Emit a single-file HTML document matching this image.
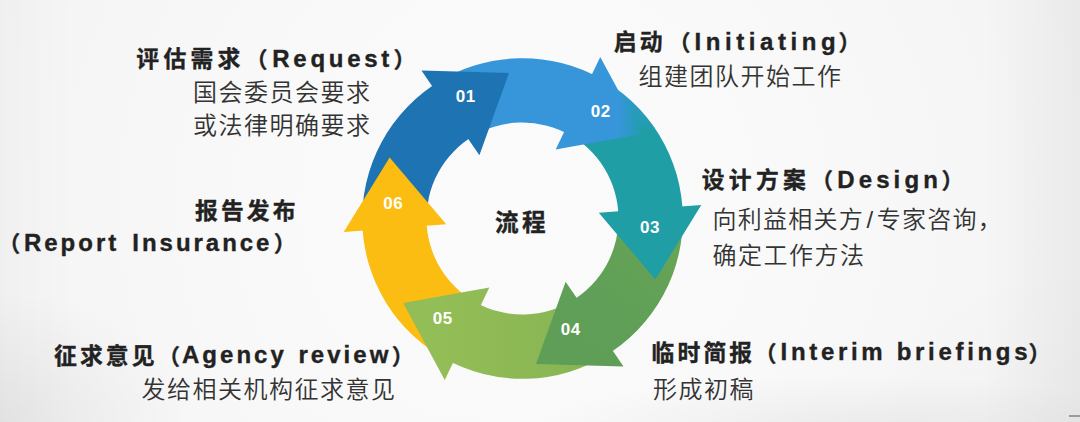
<!DOCTYPE html>
<html lang="zh-CN">
<head>
<meta charset="utf-8">
<title>流程</title>
<style>
html,body{margin:0;padding:0;}
body{width:1080px;height:422px;overflow:hidden;position:relative;
 font-family:"Liberation Sans","Noto Sans CJK SC",sans-serif;
 background:#f4f4f4;}
.bg{position:absolute;left:0;top:0;width:1080px;height:422px;
 background:
  radial-gradient(ellipse 190px 130px at 0px 422px, rgba(0,0,0,0.06), rgba(0,0,0,0) 100%),
  radial-gradient(ellipse 240px 170px at 1080px 422px, rgba(0,0,20,0.012), rgba(0,0,0,0) 100%),
  radial-gradient(ellipse 330px 55px at 860px 430px, rgba(0,0,20,0.05), rgba(0,0,0,0) 100%),
  linear-gradient(to right, rgba(0,0,0,0) 91%, rgba(0,0,0,0.045) 100%),
  linear-gradient(to left, rgba(0,0,0,0) 93%, rgba(0,0,0,0.02) 100%),
  radial-gradient(ellipse 640px 640px at 530px 205px, #fbfbfb 0%, #f9f9f9 40%, #f3f3f3 100%);}
.ring{position:absolute;left:0;top:0;}
.num{font-family:"Liberation Sans",sans-serif;font-weight:700;font-size:17px;letter-spacing:0.6px;fill:#fff;}
.h,.s{position:absolute;white-space:nowrap;line-height:34px;height:34px;}
.h{font-weight:700;font-size:22.8px;letter-spacing:3.1px;color:#222;-webkit-text-stroke:0.35px #222;}
.h span{position:absolute;top:0;}
.po,.pc{letter-spacing:0;font-size:22px;top:1.0px !important;}
.h .en{font-size:24px;top:-0.4px;}
.sl{padding:0 2.4px 0 2.4px;}
.s{font-weight:350;font-size:24px;letter-spacing:1.5px;color:#333;}
.dash{position:absolute;left:1069px;top:415px;width:11px;height:2px;background:#9a9a9a;}
</style>
</head>
<body>
<div class="bg"></div>
<svg class="ring" width="1080" height="422" viewBox="0 0 1080 422">
<defs>
<linearGradient id="g3" gradientUnits="userSpaceOnUse" x1="0" y1="86" x2="0" y2="132"><stop offset="0" stop-color="#3696d9"/><stop offset="1" stop-color="#1f9ea6"/></linearGradient>
<linearGradient id="h2" gradientUnits="userSpaceOnUse" x1="620" y1="0" x2="645" y2="0"><stop offset="0" stop-color="#3696d9"/><stop offset="1" stop-color="#1f9ea6"/></linearGradient>
<linearGradient id="g4" gradientUnits="userSpaceOnUse" x1="690" y1="225" x2="600" y2="350"><stop offset="0" stop-color="#6aa754"/><stop offset="0.6" stop-color="#60a057"/><stop offset="1" stop-color="#5f9e57"/></linearGradient>
<linearGradient id="g5" gradientUnits="userSpaceOnUse" x1="590" y1="330" x2="440" y2="330"><stop offset="0" stop-color="#87b453"/><stop offset="1" stop-color="#93bd56"/></linearGradient>
</defs>
<path d="M362.39 226.33 A160.30 160.30 0 0 1 441.62 80.10 L474.07 135.61 A96.00 96.00 0 0 0 426.61 223.19 Z" fill="#1e73b2"/>
<path d="M435.66 83.76 A160.30 160.30 0 0 1 601.92 79.26 L570.06 135.11 A96.00 96.00 0 0 0 470.50 137.81 Z" fill="#3696d9"/>
<path d="M595.77 75.93 A160.30 160.30 0 0 1 682.80 217.66 L618.50 218.00 A96.00 96.00 0 0 0 566.38 133.12 Z" fill="url(#g3)"/>
<path d="M682.61 210.67 A160.30 160.30 0 0 1 603.38 356.90 L570.93 301.39 A96.00 96.00 0 0 0 618.39 213.81 Z" fill="url(#g4)"/>
<path d="M609.34 353.24 A160.30 160.30 0 0 1 443.08 357.74 L474.94 301.89 A96.00 96.00 0 0 0 574.50 299.19 Z" fill="url(#g5)"/>
<path d="M449.23 361.07 A160.30 160.30 0 0 1 362.20 219.34 L426.50 219.00 A96.00 96.00 0 0 0 478.62 303.88 Z" fill="#fbbd11"/>
<path d="M421.46 70.38 L509.00 72.89 L479.39 155.30 Z" fill="#1e73b2"/>
<path d="M600.26 56.94 L641.85 134.00 L555.67 149.57 Z" fill="url(#h2)"/>
<path d="M701.30 205.06 L655.36 279.61 L598.78 212.76 Z" fill="url(#g3)"/>
<path d="M623.54 366.62 L536.00 364.11 L565.61 281.70 Z" fill="url(#g4)"/>
<path d="M444.74 380.06 L403.15 303.00 L489.33 287.43 Z" fill="url(#g5)"/>
<path d="M343.70 231.94 L389.64 157.39 L446.22 224.24 Z" fill="#fbbd11"/>
<text x="465.7" y="101.7" class="num" text-anchor="middle">01</text>
<text x="600.7" y="116.7" class="num" text-anchor="middle">02</text>
<text x="650.0" y="233.0" class="num" text-anchor="middle">03</text>
<text x="570.7" y="335.4" class="num" text-anchor="middle">04</text>
<text x="442.7" y="323.7" class="num" text-anchor="middle">05</text>
<text x="393.3" y="209.0" class="num" text-anchor="middle">06</text>
</svg>
<div class="h" style="left:136.3px;top:42.0px;letter-spacing:4.3px;">评估需求<span class="po" style="left:109.2px">（</span><span class="en" style="left:136.0px;letter-spacing:3.73px;">Request</span><span class="pc" style="left:257.2px">）</span></div>
<div class="s" style="left:192.9px;top:75.5px;">国会委员会要求</div>
<div class="s" style="left:193.0px;top:108.8px;">或法律明确要求</div>
<div class="h" style="left:613.8px;top:25.0px;">启动<span class="po" style="left:54.7px">（</span><span class="en" style="left:80.7px;letter-spacing:4.59px;">Initiating</span><span class="pc" style="left:224.7px">）</span></div>
<div class="s" style="left:638.5px;top:60.0px;">组建团队开始工作</div>
<div class="h" style="left:701.7px;top:163.0px;letter-spacing:4.3px;">设计方案<span class="po" style="left:109.3px">（</span><span class="en" style="left:135.6px;letter-spacing:4.10px;">Design</span><span class="pc" style="left:239.8px">）</span></div>
<div class="s" style="left:712.5px;top:202.9px;letter-spacing:1.25px;">向利益相关方<span class="sl">/</span>专家咨询，</div>
<div class="s" style="left:712.5px;top:238.8px;">确定工作方法</div>
<div class="h" style="left:651.6px;top:335.5px;">临时简报<span class="po" style="left:102.9px">（</span><span class="en" style="left:129.0px;letter-spacing:3.68px;">Interim briefings</span><span class="pc" style="left:376.9px">）</span></div>
<div class="s" style="left:653.0px;top:373.0px;">形成初稿</div>
<div class="h" style="left:54.0px;top:338.5px;">征求意见<span class="po" style="left:104.0px">（</span><span class="en" style="left:128.0px;letter-spacing:3.02px;word-spacing:2.0px;">Agency review</span><span class="pc" style="left:337.7px">）</span></div>
<div class="s" style="left:141.5px;top:372.5px;">发给相关机构征求意见</div>
<div class="h" style="left:195.0px;top:194.0px;">报告发布</div>
<div class="h" style="left:-3.0px;top:226.0px;"><span class="po" style="left:1.3px">（</span><span class="en" style="left:27.0px;letter-spacing:2.97px;word-spacing:3.5px;">Report Insurance</span><span class="pc" style="left:276.8px">）</span></div>
<div class="h" style="left:495.0px;top:205.6px;font-size:23.6px;letter-spacing:3.4px;">流程</div>
<div class="dash"></div>
</body>
</html>
